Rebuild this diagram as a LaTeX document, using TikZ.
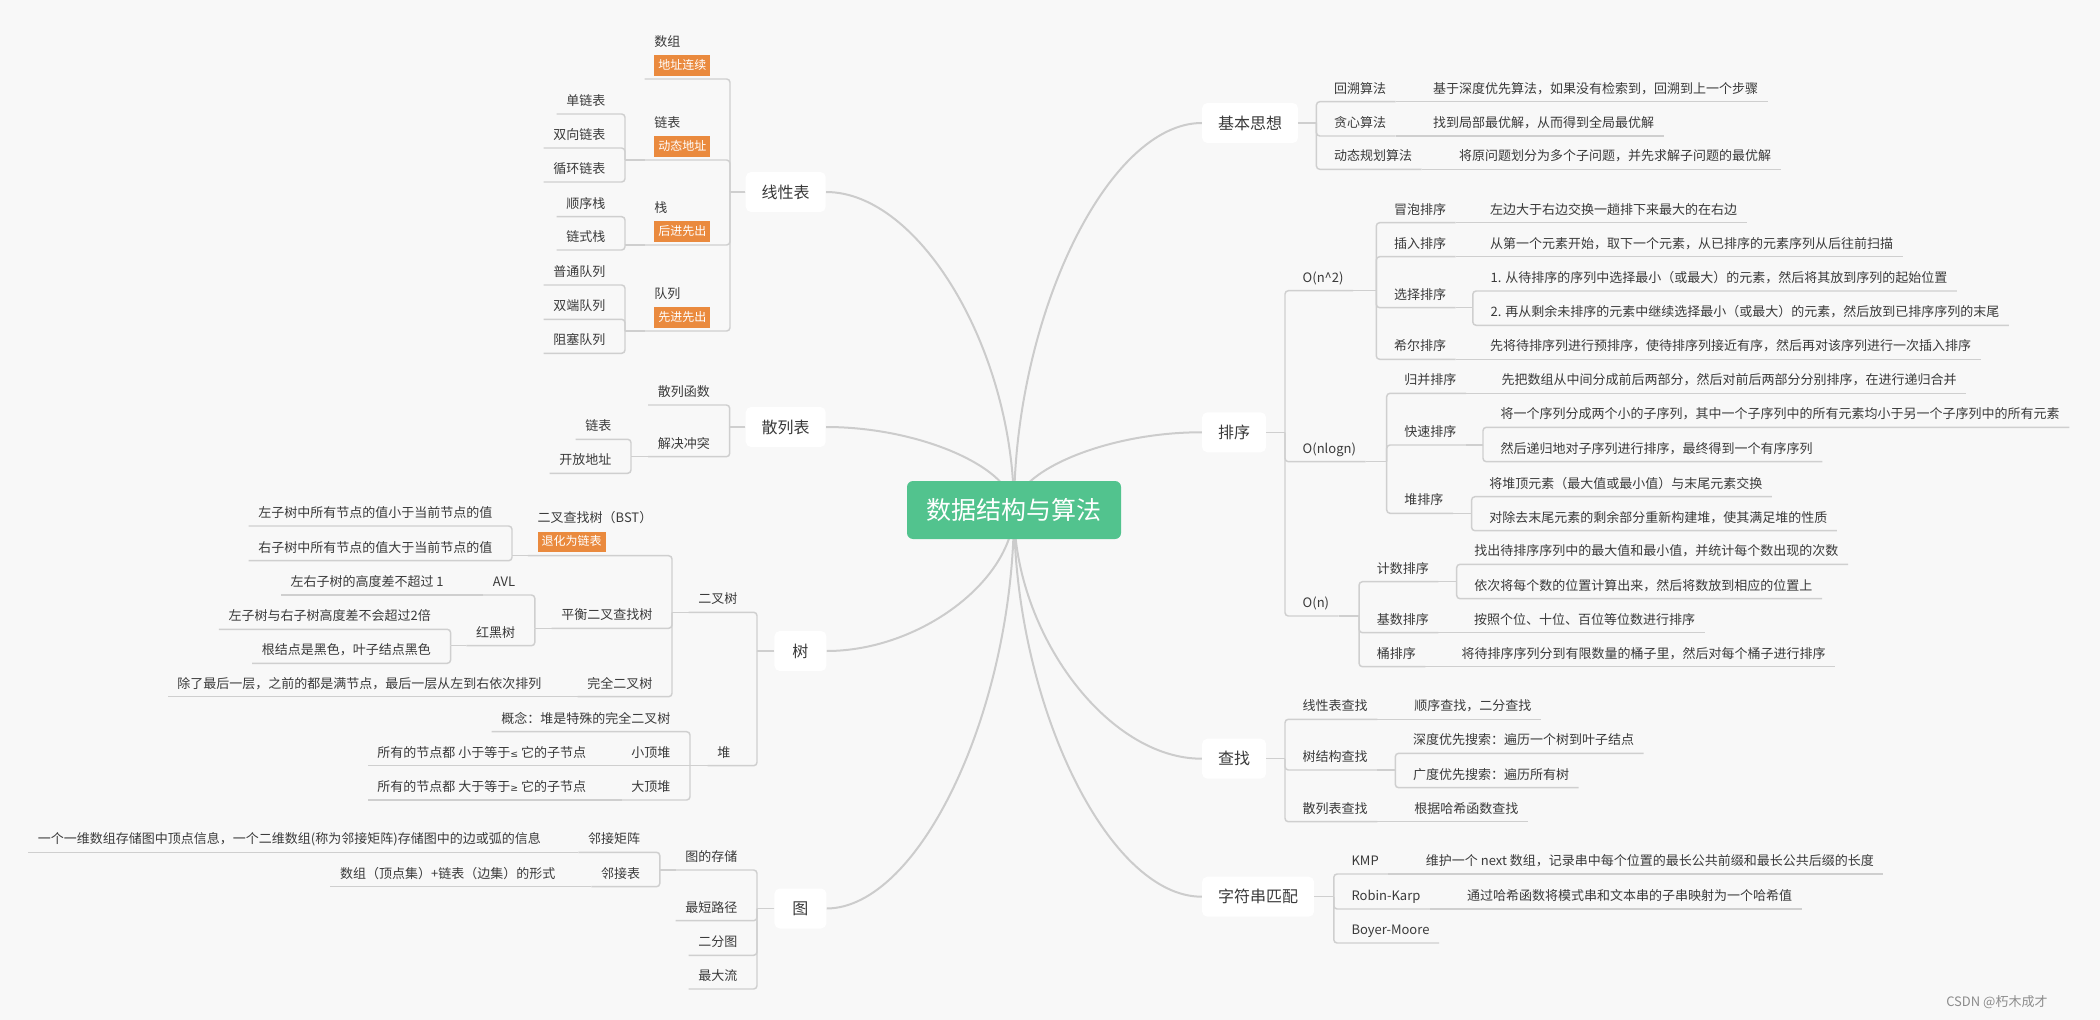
\documentclass[tikz,border=0pt]{standalone}
\usepackage{tikz}
\usepackage{fontspec}
\setmainfont{Noto Sans CJK SC}
\newfontfamily\symf{DejaVu Sans}
\definecolor{bgc}{HTML}{F8F8F8}
\definecolor{linec}{HTML}{CFCFCF}
\definecolor{curvec}{HTML}{CCCCCC}
\definecolor{txtc}{HTML}{3A3A3A}
\definecolor{rootc}{HTML}{52C38E}
\definecolor{tagc}{HTML}{EA8A3E}
\pgfdeclarelayer{bgl}
\pgfdeclarelayer{curvel}
\pgfsetlayers{bgl,curvel,main}
\newcommand\leaffont{\fontsize{9.75pt}{12pt}\selectfont}
\newcommand\boxfont{\fontsize{12pt}{14pt}\selectfont}
\newcommand\rootfont{\fontsize{18.75pt}{22pt}\selectfont}
\newcommand\tagfontx{\fontsize{9pt}{10pt}\selectfont}
\newcommand\smallsym[1]{{\symf\fontsize{7pt}{8pt}\selectfont #1}}
\newcommand\LT[1]{\hspace*{7.1pt}#1\hspace*{14.6pt}}
\newcommand\RT[1]{\hspace*{13.1pt}#1\hspace*{7pt}}
\newcommand\tagbox[1]{{\setlength{\fboxsep}{3pt}\colorbox{tagc}{\tagfontx\color{white}\rule[-2pt]{0pt}{9pt}#1}}}
\newcommand\tagit[2]{\vbox{\baselineskip=17.25pt\lineskiplimit=-100pt\lineskip=0pt\hbox{#1}\hbox{\tagbox{#2}}}}
\newcommand\Lc[2]{\draw[conn] (#1) -- (#2.south east |- #1);
  \draw[conn,rounded corners=2.5pt] (#2.south east |- #1) |- (#2.south west);}
\newcommand\Rc[2]{\draw[conn] (#1) -- (#2.south west |- #1);
  \draw[conn,rounded corners=2.5pt] (#2.south west |- #1) |- (#2.south east);}
\newcommand\Ls[2]{\draw[conn] (#1) -- (#2.south west);}
\newcommand\Rs[2]{\draw[conn] (#1) -- (#2.south east);}
\begin{document}
\begin{tikzpicture}[x=0.75pt,y=-0.75pt,
  conn/.style={draw=linec, line width=1.1pt},
  curve/.style={draw=curvec, line width=1.5pt},
  mbox/.style={fill=white, rounded corners=4pt, font=\boxfont, text=txtc, minimum height=30pt, minimum width=39pt, inner xsep=12pt, inner ysep=0pt},
  rootbox/.style={fill=rootc, rounded corners=4.5pt, font=\rootfont, text=white, minimum width=160.5pt, minimum height=43.5pt},
  itembase/.style={font=\leaffont, text=txtc, inner sep=0pt},
  litem/.style={itembase, text height=7.5pt, text depth=6.15pt, anchor=south east},
  ritem/.style={itembase, text height=7.5pt, text depth=6.15pt, anchor=south west},
  ltagi/.style={itembase, text depth=7.25pt, anchor=south east}]
\begin{pgfonlayer}{bgl}
\fill[bgc] (0,0) rectangle (2100,1020);
\end{pgfonlayer}
\useasboundingbox (0,0) rectangle (2100,1020);

% root and main boxes
\node[rootbox] (root) at (1014,510) {数据结构与算法};
\node[mbox,anchor=east] (ltab) at (826,192) {线性表};
\node[mbox,anchor=east] (htab) at (826,427) {散列表};
\node[mbox,anchor=east] (tree) at (826.7,651) {树};
\node[mbox,anchor=east] (graph) at (826.7,908.5) {图};
\node[mbox,anchor=west] (idea) at (1201.8,123) {基本思想};
\node[mbox,anchor=west] (sort) at (1201.8,432.3) {排序};
\node[mbox,anchor=west] (srch) at (1201.8,758.7) {查找};
\node[mbox,anchor=west] (strm) at (1201.8,896.7) {字符串匹配};

\begin{pgfonlayer}{curvel}
\draw[curve] (root.center) .. controls (1014,351) and (920,192) .. (ltab.east);
\draw[curve] (root.center) .. controls (1014,468) and (920,427) .. (htab.east);
\draw[curve] (root.center) .. controls (1014,580) and (920,651) .. (tree.east);
\draw[curve] (root.center) .. controls (1014,709) and (920,908) .. (graph.east);
\draw[curve] (root.center) .. controls (1014,316) and (1108,123) .. (idea.west);
\draw[curve] (root.center) .. controls (1014,471) and (1108,432) .. (sort.west);
\draw[curve] (root.center) .. controls (1014,634) and (1108,759) .. (srch.west);
\draw[curve] (root.center) .. controls (1014,703) and (1108,897) .. (strm.west);
\end{pgfonlayer}

% ---------- 线性表 ----------
\node[ltagi] (arr) at (730,79) {\LT{\tagit{数组}{地址连续}}};
\node[ltagi] (lnk) at (730,160) {\LT{\tagit{链表}{动态地址}}};
\node[ltagi] (stk) at (730,245) {\LT{\tagit{栈}{后进先出}}};
\node[ltagi] (que) at (730,331) {\LT{\tagit{队列}{先进先出}}};
\node[litem] (sll) at (625,114) {\LT{单链表}};
\node[litem] (dll) at (625,148) {\LT{双向链表}};
\node[litem] (cll) at (625,182) {\LT{循环链表}};
\node[litem] (sqs) at (625,216.7) {\LT{顺序栈}};
\node[litem] (lks) at (625,250) {\LT{链式栈}};
\node[litem] (oq) at (625,285) {\LT{普通队列}};
\node[litem] (dq) at (625,319.3) {\LT{双端队列}};
\node[litem] (bq) at (625,353.3) {\LT{阻塞队列}};
\Lc{ltab.west}{arr} \Lc{ltab.west}{lnk} \Lc{ltab.west}{stk} \Lc{ltab.west}{que}
\Lc{lnk.south west}{sll} \Lc{lnk.south west}{dll} \Lc{lnk.south west}{cll}
\Lc{stk.south west}{sqs} \Lc{stk.south west}{lks}
\Lc{que.south west}{oq} \Lc{que.south west}{dq} \Lc{que.south west}{bq}

% ---------- 散列表 ----------
\node[litem] (hfn) at (729.7,405) {\LT{散列函数}};
\node[litem] (hcr) at (729.7,456.7) {\LT{解决冲突}};
\node[litem] (hll) at (631,439.3) {\LT{链表}};
\node[litem] (hoa) at (631,473.3) {\LT{开放地址}};
\Lc{htab.west}{hfn} \Lc{htab.west}{hcr}
\Lc{hcr.south west}{hll} \Lc{hcr.south west}{hoa}

% ---------- 树 ----------
\node[litem] (bt) at (757,612.3) {\LT{二叉树}};
\node[litem] (hp) at (757,765.7) {\hspace*{7.1pt}堆\hspace*{19.7pt}};
\node[ltagi] (bst) at (672,555.7) {\LT{\tagit{二叉查找树（BST）}{退化为链表}}};
\node[litem] (bal) at (672,628.3) {\LT{平衡二叉查找树}};
\node[litem] (cbt) at (672,696.7) {\LT{完全二叉树}};
\node[litem] (bl) at (512,526) {\LT{左子树中所有节点的值小于当前节点的值}};
\node[litem] (br) at (512,560.7) {\LT{右子树中所有节点的值大于当前节点的值}};
\node[litem] (avl) at (534.8,595) {\LT{AVL}};
\node[litem] (rb) at (534.8,645.7) {\LT{红黑树}};
\node[litem] (avlc) at (463.4,595) {\LT{左右子树的高度差不超过 1}};
\node[litem] (rb1) at (450.6,629.3) {\LT{左子树与右子树高度差不会超过2倍}};
\node[litem] (rb2) at (450.6,663.3) {\LT{根结点是黑色，叶子结点黑色}};
\node[litem] (cbtc) at (561.1,696.7) {\LT{除了最后一层，之前的都是满节点，最后一层从左到右依次排列}};
\node[litem] (hpc) at (690,731.7) {\LT{概念：堆是特殊的完全二叉树}};
\node[litem] (minh) at (690,765.7) {\LT{小顶堆}};
\node[litem] (maxh) at (690,800) {\LT{大顶堆}};
\node[litem] (minhc) at (605.8,765.7) {\LT{所有的节点都 小于等于\smallsym{≤} 它的子节点}};
\node[litem] (maxhc) at (605.8,800) {\LT{所有的节点都 大于等于\smallsym{≥} 它的子节点}};
\Lc{tree.west}{bt} \Lc{tree.west}{hp}
\Lc{bt.south west}{bst} \Lc{bt.south west}{bal} \Lc{bt.south west}{cbt}
\Lc{bst.south west}{bl} \Lc{bst.south west}{br}
\Lc{bal.south west}{avl} \Lc{bal.south west}{rb}
\Ls{avl.south west}{avlc}
\Lc{rb.south west}{rb1} \Lc{rb.south west}{rb2}
\Ls{cbt.south west}{cbtc}
\Lc{hp.south west}{hpc} \Ls{hp.south west}{minh} \Lc{hp.south west}{maxh}
\Ls{minh.south west}{minhc} \Ls{maxh.south west}{maxhc}

% ---------- 图 ----------
\node[litem] (gs) at (757,870) {\LT{图的存储}};
\node[litem] (gsp) at (757,920.7) {\LT{最短路径}};
\node[litem] (gbi) at (757,955.3) {\LT{二分图}};
\node[litem] (gmf) at (757,989) {\LT{最大流}};
\node[litem] (adjm) at (659.8,852.3) {\LT{邻接矩阵}};
\node[litem] (adjl) at (659.8,886.7) {\LT{邻接表}};
\node[litem] (adjmc) at (560.5,852.3) {\LT{一个一维数组存储图中顶点信息，一个二维数组(称为邻接矩阵)存储图中的边或弧的信息}};
\node[litem] (adjlc) at (575.1,886.7) {\LT{数组（顶点集）+链表（边集）的形式}};
\Lc{graph.west}{gs} \Lc{graph.west}{gsp} \Lc{graph.west}{gbi} \Lc{graph.west}{gmf}
\Lc{gs.south west}{adjm} \Lc{gs.south west}{adjl}
\Ls{adjm.south west}{adjmc} \Ls{adjl.south west}{adjlc}

% ---------- 基本思想 ----------
\node[ritem] (bk) at (1316.4,101.7) {\RT{回溯算法}};
\node[ritem] (gr) at (1316.4,136) {\RT{贪心算法}};
\node[ritem] (dp) at (1316.4,169.3) {\RT{动态规划算法}};
\node[ritem] (bkc) at (1415.5,101.7) {\RT{基于深度优先算法，如果没有检索到，回溯到上一个步骤}};
\node[ritem] (grc) at (1415.5,136) {\RT{找到局部最优解，从而得到全局最优解}};
\node[ritem] (dpc) at (1441.3,169.3) {\RT{将原问题划分为多个子问题，并先求解子问题的最优解}};
\Rc{idea.east}{bk} \Rc{idea.east}{gr} \Rc{idea.east}{dp}
\Rs{bk.south east}{bkc} \Rs{gr.south east}{grc} \Rs{dp.south east}{dpc}

% ---------- 排序 ----------
\node[ritem] (on2) at (1285,290.7) {\RT{O(n\textasciicircum 2)}};
\node[ritem] (onl) at (1285,461.7) {\RT{O(nlogn)}};
\node[ritem] (on) at (1285,616) {\RT{O(n)}};
\node[ritem] (bub) at (1376.3,222.7) {\RT{冒泡排序}};
\node[ritem] (ins) at (1376.3,256.7) {\RT{插入排序}};
\node[ritem] (sel) at (1376.3,307.7) {\RT{选择排序}};
\node[ritem] (she) at (1376.3,359.3) {\RT{希尔排序}};
\node[ritem] (bubc) at (1472.5,222.7) {\RT{左边大于右边交换一趟排下来最大的在右边}};
\node[ritem] (insc) at (1472.5,256.7) {\RT{从第一个元素开始，取下一个元素，从已排序的元素序列从后往前扫描}};
\node[ritem] (sel1) at (1472.8,291) {\RT{1. 从待排序的序列中选择最小（或最大）的元素，然后将其放到序列的起始位置}};
\node[ritem] (sel2) at (1472.8,325.3) {\RT{2. 再从剩余未排序的元素中继续选择最小（或最大）的元素，然后放到已排序序列的末尾}};
\node[ritem] (shec) at (1472.5,359.3) {\RT{先将待排序列进行预排序，使待排序列接近有序，然后再对该序列进行一次插入排序}};
\node[ritem] (mer) at (1386.7,393.3) {\RT{归并排序}};
\node[ritem] (qui) at (1386.7,445) {\RT{快速排序}};
\node[ritem] (hps) at (1386.7,513.3) {\RT{堆排序}};
\node[ritem] (merc) at (1484,393.3) {\RT{先把数组从中间分成前后两部分，然后对前后两部分分别排序，在进行递归合并}};
\node[ritem] (qu1) at (1483,427.3) {\RT{将一个序列分成两个小的子序列，其中一个子序列中的所有元素均小于另一个子序列中的所有元素}};
\node[ritem] (qu2) at (1483,461.7) {\RT{然后递归地对子序列进行排序，最终得到一个有序序列}};
\node[ritem] (hps1) at (1471.6,496.7) {\RT{将堆顶元素（最大值或最小值）与末尾元素交换}};
\node[ritem] (hps2) at (1471.6,530.7) {\RT{对除去末尾元素的剩余部分重新构建堆，使其满足堆的性质}};
\node[ritem] (cnt) at (1359.1,581.7) {\RT{计数排序}};
\node[ritem] (rad) at (1359.1,632.7) {\RT{基数排序}};
\node[ritem] (buc) at (1359.1,666.7) {\RT{桶排序}};
\node[ritem] (cn1) at (1456.7,564.3) {\RT{找出待排序序列中的最大值和最小值，并统计每个数出现的次数}};
\node[ritem] (cn2) at (1456.7,598.7) {\RT{依次将每个数的位置计算出来，然后将数放到相应的位置上}};
\node[ritem] (radc) at (1456.5,632.7) {\RT{按照个位、十位、百位等位数进行排序}};
\node[ritem] (bucc) at (1443.8,666.7) {\RT{将待排序序列分到有限数量的桶子里，然后对每个桶子进行排序}};
\Rc{sort.east}{on2} \Rc{sort.east}{onl} \Rc{sort.east}{on}
\Rc{on2.south east}{bub} \Rc{on2.south east}{ins} \Rc{on2.south east}{sel} \Rc{on2.south east}{she}
\Rs{bub.south east}{bubc} \Rs{ins.south east}{insc} \Rs{she.south east}{shec}
\Rc{sel.south east}{sel1} \Rc{sel.south east}{sel2}
\Rc{onl.south east}{mer} \Rc{onl.south east}{qui} \Rc{onl.south east}{hps}
\Rs{mer.south east}{merc}
\Rc{qui.south east}{qu1} \Rc{qui.south east}{qu2}
\Rc{hps.south east}{hps1} \Rc{hps.south east}{hps2}
\Rc{on.south east}{cnt} \Rc{on.south east}{rad} \Rc{on.south east}{buc}
\Rc{cnt.south east}{cn1} \Rc{cnt.south east}{cn2}
\Rs{rad.south east}{radc} \Rs{buc.south east}{bucc}

% ---------- 查找 ----------
\node[ritem] (ls) at (1285,719.3) {\RT{线性表查找}};
\node[ritem] (ts) at (1285,770) {\RT{树结构查找}};
\node[ritem] (hsr) at (1285,821.7) {\RT{散列表查找}};
\node[ritem] (lsc) at (1396.7,719.3) {\RT{顺序查找，二分查找}};
\node[ritem] (ts1) at (1395.3,753.3) {\RT{深度优先搜索：遍历一个树到叶子结点}};
\node[ritem] (ts2) at (1395.3,787.7) {\RT{广度优先搜索：遍历所有树}};
\node[ritem] (hsrc) at (1396.7,821.7) {\RT{根据哈希函数查找}};
\Rc{srch.east}{ls} \Rc{srch.east}{ts} \Rc{srch.east}{hsr}
\Rs{ls.south east}{lsc} \Rs{hsr.south east}{hsrc}
\Rc{ts.south east}{ts1} \Rc{ts.south east}{ts2}

% ---------- 字符串匹配 ----------
\node[ritem] (kmp) at (1333.8,874) {\RT{KMP}};
\node[ritem] (rk) at (1333.8,909) {\RT{Robin-Karp}};
\node[ritem] (bm) at (1333.8,943) {\RT{Boyer-Moore}};
\node[ritem] (kmpc) at (1408.2,874) {\RT{维护一个 next 数组，记录串中每个位置的最长公共前缀和最长公共后缀的长度}};
\node[ritem] (rkc) at (1449.5,909) {\RT{通过哈希函数将模式串和文本串的子串映射为一个哈希值}};
\Rc{strm.east}{kmp} \Rc{strm.east}{rk} \Rc{strm.east}{bm}
\Rs{kmp.south east}{kmpc} \Rs{rk.south east}{rkc}

% watermark
\node[anchor=west, font=\fontsize{9.75pt}{12pt}\selectfont, text=black!45, inner sep=0pt] (wm) at (1946,1002) {CSDN @朽木成才};
\end{tikzpicture}
\end{document}
